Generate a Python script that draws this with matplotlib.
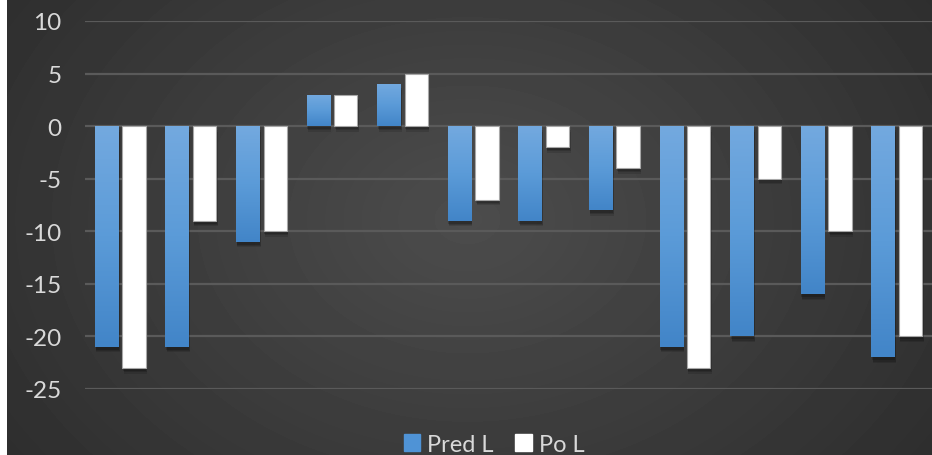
import numpy as np
import matplotlib.pyplot as plt
from matplotlib.colors import LinearSegmentedColormap
import matplotlib.patheffects as pe

# values
categories = list(range(1, 13))
pred_l = [-21, -21, -11, 3, 4, -9, -9, -8, -21, -20, -16, -22]
po_l = [-23, -9, -10, 3, 5, -7, -2, -4, -23, -5, -10, -20]
yticks = [-25, -20, -15, -10, -5, 0, 5, 10]

plt.rcParams['font.family'] = ['Lato', 'DejaVu Sans']

fig = plt.figure(figsize=(9.32, 4.56), dpi=100)
fig.patch.set_facecolor('white')

# dark radial background (chart area starts a few px in from the left)
bg = fig.add_axes([7 / 932, 0, 1 - 7 / 932, 1])
yy, xx = np.mgrid[0:456, 0:925]
r = np.sqrt(((xx - 460) / 560.0) ** 2 + ((yy - 220) / 420.0) ** 2)
shade = np.clip(0.30 - 0.12 * r, 0.17, 0.30)
bg.imshow(shade, cmap='gray', vmin=0, vmax=1, aspect='auto', interpolation='bilinear')
bg.axis('off')

ax = fig.add_axes([85 / 932, 1 - 390 / 456, 1 - 85 / 932, (390 - 22) / 456])
ax.set_facecolor('none')
x = np.arange(len(categories))
w = 0.33
off = 0.195

blue_cmap = LinearSegmentedColormap.from_list('bl', ['#73a9df', '#5b9bd8', '#4285c8'])
grad = np.linspace(0, 1, 100).reshape(-1, 1)

# soft-ish shadow: a few stacked faint offsets
shadow = [pe.SimplePatchShadow(offset=(1, -4), alpha=0.12, shadow_rgbFace='black'),
          pe.SimplePatchShadow(offset=(1, -3), alpha=0.15, shadow_rgbFace='black'),
          pe.SimplePatchShadow(offset=(0.5, -2), alpha=0.18, shadow_rgbFace='black'),
          pe.Normal()]

bars_b = ax.bar(x - off, pred_l, w, color='#5b9bd5', label='Pred L', zorder=3,
                path_effects=shadow)
for b in bars_b:
    x0, y0 = b.get_x(), b.get_y()
    h = b.get_height()
    top, bot = max(y0, y0 + h), min(y0, y0 + h)
    im = ax.imshow(grad, cmap=blue_cmap, extent=[x0, x0 + b.get_width(), bot, top],
                   aspect='auto', zorder=4, origin='upper')
    im.set_clip_path(b)

ax.bar(x + off, po_l, w, color='white', edgecolor='#a8a8a8', linewidth=0.8,
       label='Po L', zorder=3, path_effects=shadow)

ax.set_xlim(-0.5, len(categories) - 0.5)
ax.set_ylim(-25, 10)
ax.set_yticks(yticks)
ax.set_yticklabels([str(t) for t in yticks])
ax.set_xticks([])
ax.tick_params(axis='y', length=0, pad=17, labelsize=17.5, labelcolor='#d9d9d9')
ax.grid(axis='y', color='#5a5a5a', linewidth=1.6, zorder=0)
for s in ax.spines.values():
    s.set_visible(False)

handles = [plt.Rectangle((0, 0), 1, 1, color='#4f93d6'), plt.Rectangle((0, 0), 1, 1, color='white')]
leg = fig.legend(handles, ['Pred L', 'Po L'], loc='center', bbox_to_anchor=(0.53, 0.024),
                 ncol=2, frameon=False, fontsize=17, handlelength=0.7, handleheight=0.7,
                 handletextpad=0.3, columnspacing=0.9)
for t in leg.get_texts():
    t.set_color('#d9d9d9')

plt.savefig('out.png', dpi=100)
